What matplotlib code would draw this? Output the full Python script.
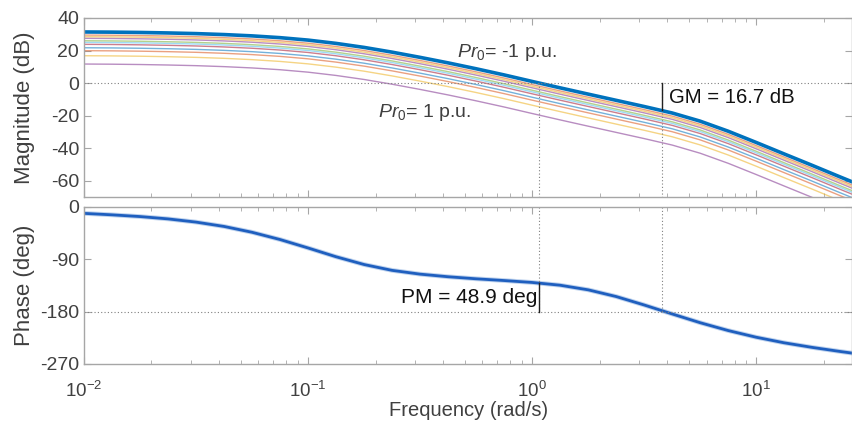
import numpy as np
import matplotlib
matplotlib.use('Agg')
import matplotlib.pyplot as plt

plt.rcParams['font.family'] = ['Liberation Sans', 'DejaVu Sans']
plt.rcParams['mathtext.fontset'] = 'custom'
plt.rcParams['mathtext.rm'] = 'Liberation Sans'
plt.rcParams['mathtext.it'] = 'Liberation Sans:italic'
plt.rcParams['axes.unicode_minus'] = False

freq = [0.01, 0.0133, 0.0178, 0.0237, 0.0316, 0.0422, 0.0562, 0.075, 0.1,
        0.133, 0.178, 0.237, 0.316, 0.422, 0.562, 0.75, 1.0, 1.33, 1.78,
        2.37, 3.16, 4.22, 5.62, 7.5, 10.0, 13.3, 17.8, 23.7, 26.8]

# nominal magnitude curve (Pr0 = -1 p.u.), dB
mag_top = [31.4, 31.3, 31.1, 30.8, 30.4, 29.8, 29.0, 27.9, 26.4,
           24.4, 21.9, 19.0, 15.8, 12.4, 8.8, 5.0, 1.0, -2.9, -6.8,
           -10.6, -14.4, -18.4, -23.4, -29.6, -36.5, -43.5, -50.6, -57.7, -60.7]

# shift of each Pr0 curve below the nominal one, dB (Pr0 = -1 ... 1 p.u.)
gain_offset = [0, -1.9, -2.9, -3.9, -5.4, -6.4, -7.6, -9.7, -11.5, -14.6, -19.7]

# phase, deg
phase = [-11, -13.5, -16.5, -20.5, -26, -33.5, -43.5, -56, -70.5,
         -85.5, -99, -109, -115.5, -120, -123.5, -126.5, -129.8, -134.5, -142.5,
         -154, -168.5, -184, -199, -212.5, -224, -233.5, -241.5, -248.5, -251.3]

w_pm = 1.07   # gain crossover
w_gm = 3.8    # phase crossover
gm_db = 16.7
pm_deg = 48.9

colors = ['#0072BD', '#D95319', '#EDB120', '#7E2F8E', '#77AC30', '#4DBEEE',
          '#A2142F', '#0072BD', '#D95319', '#EDB120', '#7E2F8E']

fig = plt.figure(figsize=(8.53, 4.23), dpi=100)
ax1 = fig.add_axes([0.0985, 0.5343, 0.9005, 0.4232])
ax2 = fig.add_axes([0.0985, 0.1395, 0.9005, 0.3712])

spine_c = '#A6A6A6'
text_c = '#404040'
dot = (0, (1, 2))

for ax in (ax1, ax2):
    ax.set_xscale('log')
    ax.set_xlim(0.01, 26.8)
    for s in ax.spines.values():
        s.set_color(spine_c)
        s.set_linewidth(1.0)
    ax.tick_params(which='both', direction='in', top=True, right=True,
                   color=spine_c, labelcolor=text_c, labelsize=14)
    ax.tick_params(which='major', length=5)
    ax.tick_params(which='minor', length=3)

# magnitude
for i in range(len(gain_offset) - 1, 0, -1):
    ax1.plot(freq, np.array(mag_top) + gain_offset[i], color=colors[i],
             lw=1.0, alpha=0.55)
ax1.plot(freq, mag_top, color=colors[0], lw=2.6)
ax1.set_ylim(-70, 40)
ax1.set_yticks([40, 20, 0, -20, -40, -60])
ax1.tick_params(axis='x', which='both', labelbottom=False)
ax1.axhline(0, color='#808080', lw=0.8, ls=dot)
ax1.plot([w_pm, w_pm], [0, -70], color='#808080', lw=0.8, ls=dot)
ax1.plot([w_gm, w_gm], [0, -70], color='#808080', lw=0.8, ls=dot)
ax1.plot([w_gm, w_gm], [0, -gm_db], color='#222222', lw=1.0)
ax1.text(w_gm * 1.07, -8.6, 'GM = %.1f dB' % gm_db, fontsize=14.7,
         color='#111111', va='center', ha='left')
ax1.text(0.462, 18.5, '$Pr_0$= -1 p.u.', fontsize=14, color=text_c,
         va='center', ha='left')
ax1.text(0.205, -17.8, '$Pr_0$= 1 p.u.', fontsize=14, color=text_c,
         va='center', ha='left')
ax1.set_ylabel('Magnitude (dB)', fontsize=16, color=text_c)
ax1.yaxis.set_label_coords(-0.064, 0.5)

# phase
ax2.plot(freq, phase, color='#7FA7DD', lw=3.4, alpha=0.5)
ax2.plot(freq, phase, color='#1F5FBF', lw=2.0)
ax2.set_ylim(-270, 0)
ax2.set_yticks([0, -90, -180, -270])
ax2.axhline(-180, color='#808080', lw=0.8, ls=dot)
ax2.plot([w_pm, w_pm], [0, -180], color='#808080', lw=0.8, ls=dot)
ax2.plot([w_gm, w_gm], [0, -180], color='#808080', lw=0.8, ls=dot)
ax2.plot([w_pm, w_pm], [-180, -180 + pm_deg], color='#222222', lw=1.0)
ax2.text(w_pm * 0.985, -156, 'PM = %.1f deg' % pm_deg, fontsize=15,
         color='#111111', va='center', ha='right')
ax2.tick_params(axis='x', which='major', pad=12, labelsize=13.5)
ax2.set_ylabel('Phase (deg)', fontsize=16, color=text_c)
ax2.yaxis.set_label_coords(-0.064, 0.5)
ax2.set_xlabel('Frequency (rad/s)', fontsize=14.5, color=text_c, labelpad=0)

fig.savefig('out.png', dpi=100)
